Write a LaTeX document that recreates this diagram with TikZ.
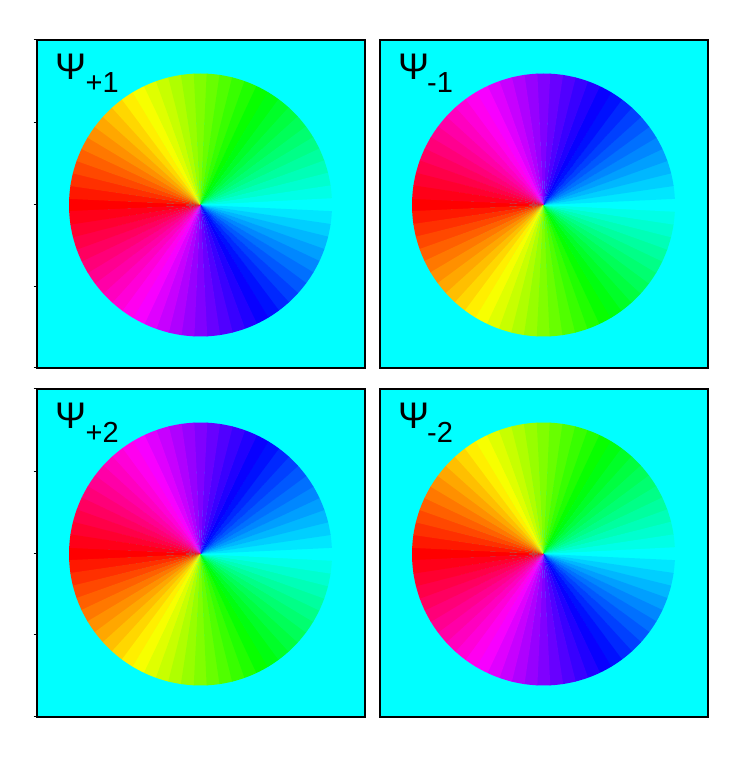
\documentclass[tikz,border=0pt]{standalone}
\usepackage{fontspec}
\setmainfont{Liberation Sans}
\definecolor{bgcyan}{RGB}{0,255,255}
\tikzset{
  panelbg/.style={fill=bgcyan},
  panelframe/.style={draw=black, line width=1.6pt},
  tickline/.style={draw=black, line width=1pt},
  psilabel/.style={inner sep=0pt, anchor=base west, font=\fontsize{37}{37}\selectfont},
  sublabel/.style={inner sep=0pt, anchor=base west, font=\fontsize{29}{29}\selectfont},
}
\newcommand{\phasedisk}[3]{%
  \foreach \k in {0,...,63}{%
    \pgfmathsetmacro{\hh}{\k/64}%
    \pgfmathsetmacro{\tc}{#3*(180-\k*5.625)}%
    \pgfmathsetmacro{\ta}{\tc-2.95}%
    \pgfmathsetmacro{\tb}{\tc+2.95}%
    \definecolor{wc}{hsb}{\hh,1,1}%
    \fill[wc] (#1,#2) -- ++(\ta:131.5) arc[start angle=\ta, end angle=\tb, radius=131.5] -- cycle;
  }%
}
\begin{document}
\begin{tikzpicture}[x=1pt,y=1pt]
\useasboundingbox[fill=white] (0,0) rectangle (745,758);
% backgrounds
\fill[panelbg] (37,390) rectangle (365,718);
\fill[panelbg] (380,390) rectangle (708,718);
\fill[panelbg] (37,41) rectangle (365,369);
\fill[panelbg] (380,41) rectangle (708,369);
% disks
\phasedisk{200.5}{553}{1}
\phasedisk{543.5}{553}{-1}
\phasedisk{200.5}{204}{-1}
\phasedisk{543.5}{204}{1}
% frames
\draw[panelframe] (37,390) rectangle (365,718);
\draw[panelframe] (380,390) rectangle (708,718);
\draw[panelframe] (37,41) rectangle (365,369);
\draw[panelframe] (380,41) rectangle (708,369);
% ticks
\foreach \y in {718,635,553,471,390}{\draw[tickline] (33.5,\y) -- (37,\y);}
\foreach \y in {369,286,204,123,41}{\draw[tickline] (33.5,\y) -- (37,\y);}
% labels
\node[psilabel] (psiA) at (55,678) {Ψ};
\node[sublabel] (subA) at (85.5,665) {+1};
\node[psilabel] (psiB) at (398,678) {Ψ};
\node[sublabel] (subB) at (427,665) {-1};
\node[psilabel] (psiC) at (55,329) {Ψ};
\node[sublabel] (subC) at (85.5,315) {+2};
\node[psilabel] (psiD) at (398,329) {Ψ};
\node[sublabel] (subD) at (427,315) {-2};
\end{tikzpicture}
\end{document}
